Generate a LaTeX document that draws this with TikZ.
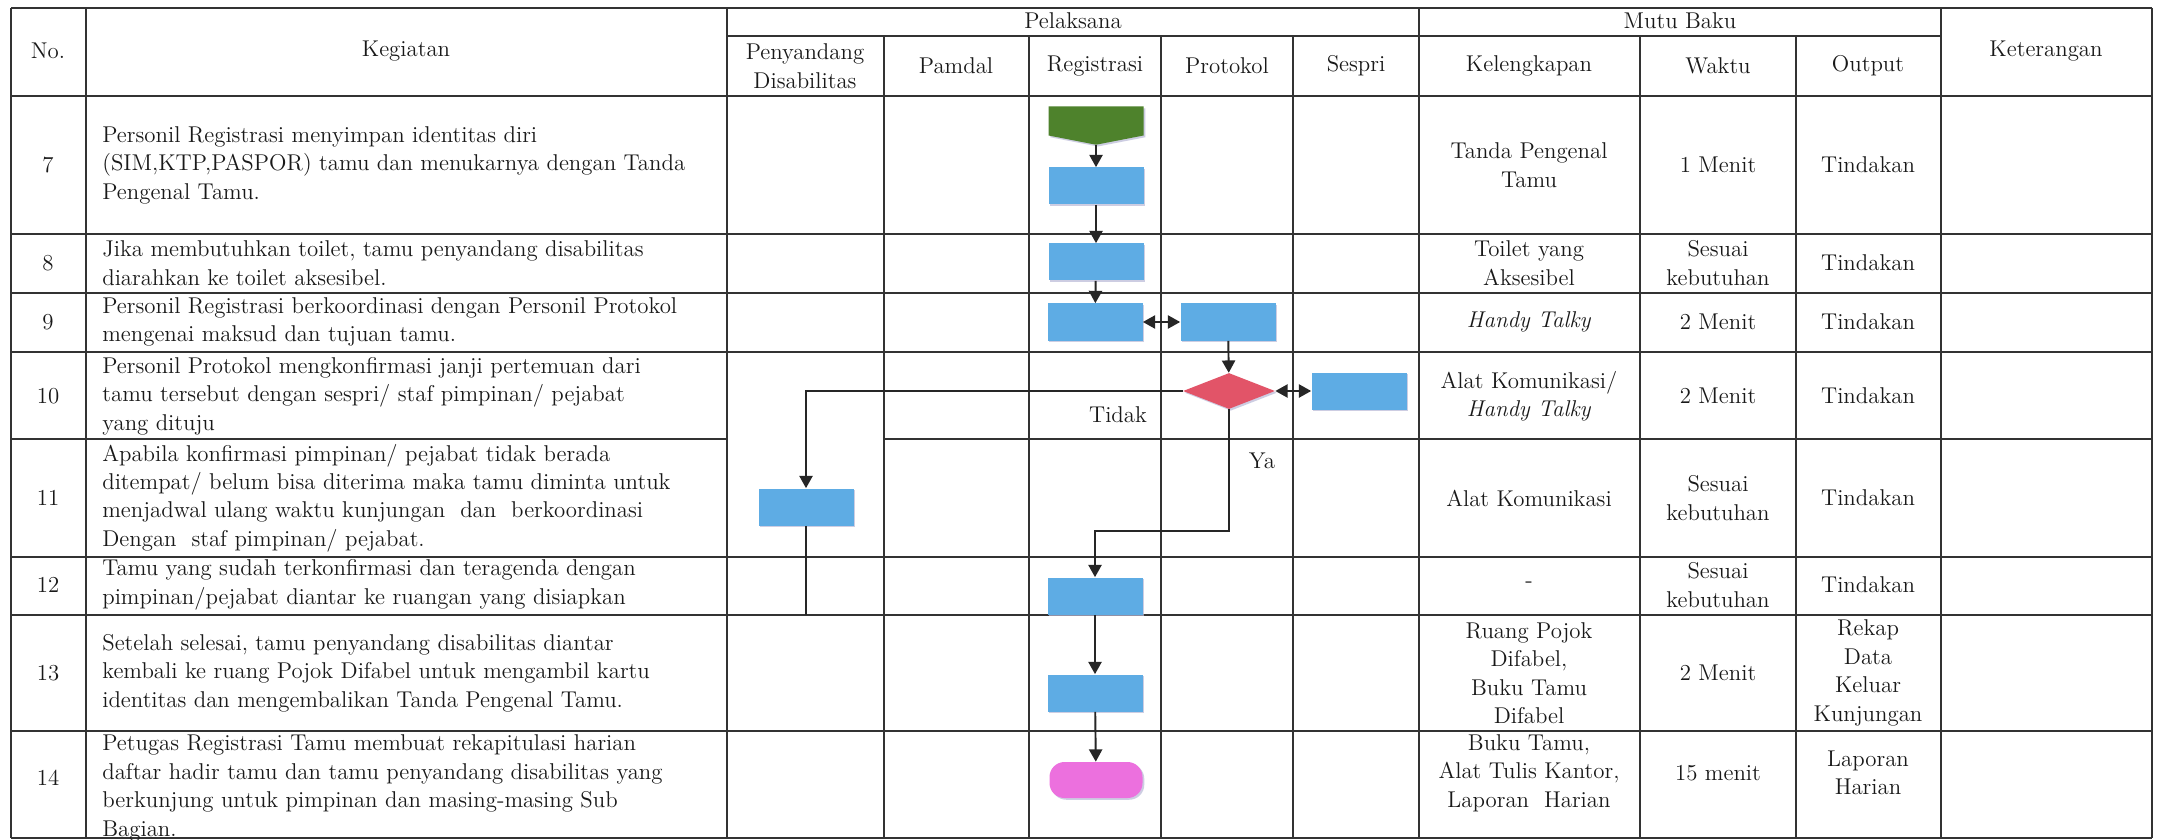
\documentclass[tikz,border=0pt]{standalone}
\usetikzlibrary{calc,positioning,arrows.meta,shapes.geometric,shapes.symbols,shadows}

\definecolor{boxblue}{RGB}{94,172,228}
\definecolor{startgreen}{RGB}{78,130,44}
\definecolor{decred}{RGB}{226,84,104}
\definecolor{endpink}{RGB}{236,112,222}
\definecolor{shade}{RGB}{185,185,215}

\begin{document}
\begin{tikzpicture}[x=0.2mm,y=-0.2mm,font=\fontsize{13}{16.2}\selectfont]

\tikzset{grid/.style={draw=black!80,line width=0.8pt},
cell/.style={inner sep=0pt,align=center,text=black!90},
kegiatan/.style={cell,align=left,anchor=west},
shadowed/.style={drop shadow={shadow xshift=1pt,shadow yshift=-1pt,fill=shade,opacity=0.7}},
process/.style={shadowed,fill=boxblue,minimum width=1.9cm,minimum height=0.74cm,inner sep=0pt},
offpage/.style={shadowed,fill=startgreen,shape=signal,signal to=south,signal from=nowhere,signal pointer angle=158,minimum width=1.9cm,minimum height=0.58cm,inner sep=0pt},
decision/.style={shadowed,fill=decred,shape=diamond,minimum width=1.84cm,minimum height=0.72cm,inner sep=0pt},
terminal/.style={shadowed,fill=endpink,rounded corners=0.3cm,minimum width=1.86cm,minimum height=0.72cm,inner sep=0pt},
flow/.style={draw=black!85,line width=1.1pt,-{Triangle[length=7pt,width=7.5pt]}},
twoway/.style={flow,{Triangle[length=7pt,width=7.5pt]}-{Triangle[length=7pt,width=7.5pt]}}}

\fill[white] (0,0) rectangle (2161,840);
\useasboundingbox (0,0) rectangle (2161,840);

% Table lines
\draw[grid] (11,8) -- (2152,8); \draw[grid] (727,36) -- (1941,36); \draw[grid] (11,96) -- (2152,96);
\foreach \y in {234,293,352,557,615,731,838} \draw[grid] (11,\y) -- (2152,\y);
\draw[grid] (11,439) -- (727,439); \draw[grid] (884,439) -- (2152,439); % merged cell rows 10-11
\foreach \x in {11,86,727,1419,1941,2152} \draw[grid] (\x,8) -- (\x,838);
\foreach \x in {884,1029,1161,1293,1640,1796} \draw[grid] (\x,36) -- (\x,838);

% Header
\node[cell] (hNo) at (48,51) {No.};
\node[cell] (hKeg) at (406,51) {Kegiatan};
\node[cell] (hPel) at (1073,21) {Pelaksana};
\node[cell] (hPen) at (805,66) {Penyandang\\Disabilitas};
\node[cell] (hPam) at (956,66) {Pamdal};
\node[cell] (hReg) at (1095,66) {Registrasi};
\node[cell] (hPro) at (1227,66) {Protokol};
\node[cell] (hSes) at (1356,66) {Sespri};
\node[cell] (hMutu) at (1680,21) {Mutu Baku};
\node[cell] (hKel) at (1529,66) {Kelengkapan};
\node[cell] (hWak) at (1718,66) {Waktu};
\node[cell] (hOut) at (1868,66) {Output};
\node[cell] (hKet) at (2046,51) {Keterangan};

% Row numbers
\foreach \n/\y in {7/165,8/263,9/322,10/396,11/498,12/585,13/673,14/778} \node[cell] (no\n) at (48,\y) {\n};

% Kegiatan
\node[kegiatan] (k7) at (102,165) {Personil Registrasi menyimpan identitas diri\\(SIM,KTP,PASPOR) tamu dan menukarnya dengan Tanda\\Pengenal Tamu.};
\node[kegiatan] (k8) at (102,263) {Jika membutuhkan toilet, tamu penyandang disabilitas\\diarahkan ke toilet aksesibel.};
\node[kegiatan] (k9) at (102,322) {Personil Registrasi berkoordinasi dengan Personil Protokol\\mengenai maksud dan tujuan tamu.};
\node[kegiatan] (k10) at (102,396) {Personil Protokol mengkonfirmasi janji pertemuan dari\\tamu tersebut dengan sespri/ staf pimpinan/ pejabat\\yang dituju};
\node[kegiatan] (k11) at (102,498) {Apabila konfirmasi pimpinan/ pejabat tidak berada\\ditempat/ belum bisa diterima maka tamu diminta untuk\\menjadwal ulang waktu kunjungan\ \ dan\ \ berkoordinasi\\Dengan\ \ staf pimpinan/ pejabat.};
\node[kegiatan] (k12) at (102,585) {Tamu yang sudah terkonfirmasi dan teragenda dengan\\pimpinan/pejabat diantar ke ruangan yang disiapkan};
\node[kegiatan] (k13) at (102,673) {Setelah selesai, tamu penyandang disabilitas diantar\\kembali ke ruang Pojok Difabel untuk mengambil kartu\\identitas dan mengembalikan Tanda Pengenal Tamu.};
\node[kegiatan] (k14) at (102,788) {Petugas Registrasi Tamu membuat rekapitulasi harian\\daftar hadir tamu dan tamu penyandang disabilitas yang\\berkunjung untuk pimpinan dan masing-masing Sub\\Bagian.};

% Mutu baku
\node[cell] (kel7) at (1529,165) {Tanda Pengenal\\Tamu};
\node[cell] (kel8) at (1529,263) {Toilet yang\\Aksesibel};
\node[cell] (kel9) at (1529,322) {\textit{Handy Talky}};
\node[cell] (kel10) at (1529,396) {Alat Komunikasi/\\\textit{Handy Talky}};
\node[cell] (kel11) at (1529,498) {Alat Komunikasi};
\node[cell] (kel12) at (1529,585) {-};
\node[cell] (kel13) at (1529,673) {Ruang Pojok\\Difabel,\\Buku Tamu\\Difabel};
\node[cell] (kel14) at (1529,773) {Buku Tamu,\\Alat Tulis Kantor,\\Laporan\ \ Harian};
\node[cell] (wak7) at (1718,165) {1 Menit};
\node[cell] (wak8) at (1718,263) {Sesuai\\kebutuhan};
\node[cell] (wak9) at (1718,322) {2 Menit};
\node[cell] (wak10) at (1718,396) {2 Menit};
\node[cell] (wak11) at (1718,498) {Sesuai\\kebutuhan};
\node[cell] (wak12) at (1718,585) {Sesuai\\kebutuhan};
\node[cell] (wak13) at (1718,673) {2 Menit};
\node[cell] (wak14) at (1718,773) {15 menit};
\foreach \n/\y in {7/165,8/263,9/322,10/396,11/498,12/585} \node[cell] (out\n) at (1868,\y) {Tindakan};
\node[cell] (out13) at (1868,673) {Rekap\\Data\\Keluar\\Kunjungan};
\node[cell] (out14) at (1868,773) {Laporan\\Harian};

% Flow shapes
\node[offpage] (start) at (1096,121) {};
\node[process] (reg7) at (1096,186) {};
\node[process] (reg8) at (1096,262) {};
\node[process] (reg9) at (1095,322) {};
\node[process] (pro9) at (1228,322) {};
\node[decision] (cek) at (1229,391) {};
\node[process] (ses10) at (1359,391) {};
\node[process] (pen11) at (806,507) {};
\node[process] (reg12) at (1095,596) {};
\node[process] (reg13) at (1095,693) {};
\node[terminal] (stop) at (1096,780) {};
\coordinate (penEnd) at (806,615);
\coordinate (yaTurn) at (1229,531);

% Connectors
\draw[flow] (start.south) -- (reg7); \draw[flow] (reg7) -- (reg8); \draw[flow] (reg8) -- (reg9);
\draw[twoway] (reg9) -- (pro9); \draw[flow] (pro9) -- (cek); \draw[twoway] (cek) -- (ses10);
\draw[flow] (cek.west) -| (pen11.north); \draw[draw=black!85,line width=1.1pt] (pen11) -- (penEnd);
\draw[flow] (cek.south) -- (yaTurn) -| (reg12.north);
\draw[flow] (reg12) -- (reg13); \draw[flow] (reg13) -- (stop);

% Branch labels
\node[cell] (tidak) at (1118,415) {Tidak};
\node[cell] (ya) at (1262,461) {Ya};

\end{tikzpicture}
\end{document}
